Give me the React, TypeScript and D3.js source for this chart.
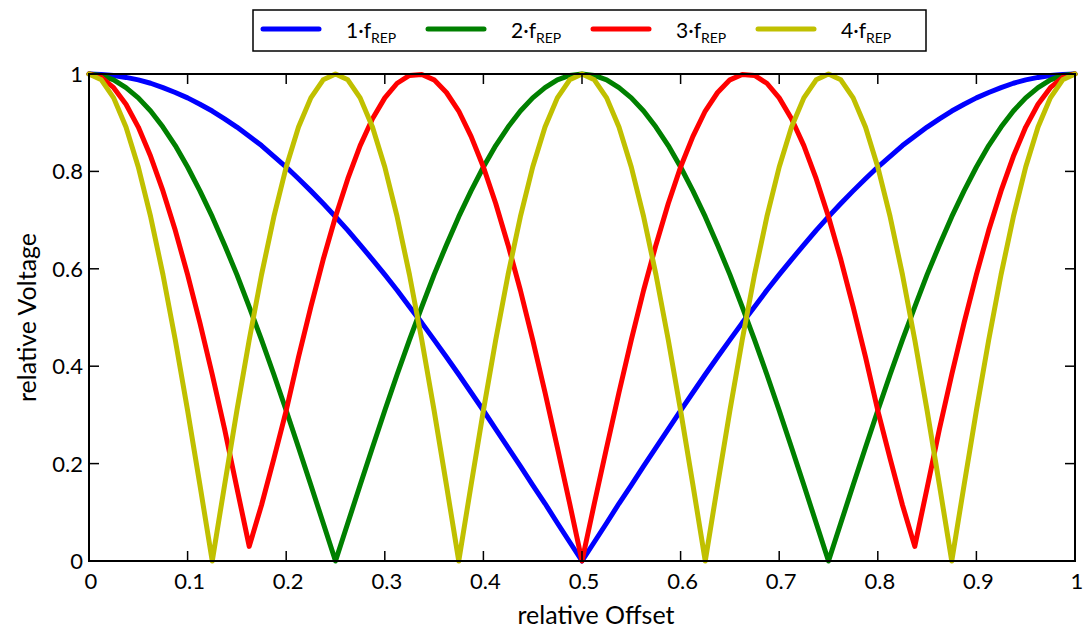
import React from "react";
import * as d3 from "d3";

// relative offset samples (step 0.0125)
const offsets: number[] = Array.from({ length: 81 }, (_, i) => +(i * 0.0125).toFixed(4));

const f1: number[] = [
  1.000,0.999,0.997,0.993,0.988,0.981,0.972,0.962,0.951,0.938,0.924,0.908,0.891,0.872,0.853,0.831,0.809,0.785,0.760,0.734,0.707,
  0.679,0.649,0.619,0.588,0.556,0.522,0.489,0.454,0.419,0.383,0.346,0.309,0.271,0.233,0.195,0.156,0.118,0.078,0.039,0.000,
  0.039,0.078,0.118,0.156,0.195,0.233,0.271,0.309,0.346,0.383,0.419,0.454,0.489,0.522,0.556,0.588,0.619,0.649,0.679,0.707,
  0.734,0.760,0.785,0.809,0.831,0.853,0.872,0.891,0.908,0.924,0.938,0.951,0.962,0.972,0.981,0.988,0.993,0.997,0.999,1.000,
];

const f2: number[] = [
  1.000,0.997,0.988,0.972,0.951,0.924,0.891,0.853,0.809,0.760,0.707,0.649,0.588,0.522,0.454,0.383,0.309,0.233,0.156,0.078,0.000,
  0.078,0.156,0.233,0.309,0.383,0.454,0.522,0.588,0.649,0.707,0.760,0.809,0.853,0.891,0.924,0.951,0.972,0.988,0.997,1.000,
  0.997,0.988,0.972,0.951,0.924,0.891,0.853,0.809,0.760,0.707,0.649,0.588,0.522,0.454,0.383,0.309,0.233,0.156,0.078,0.000,
  0.078,0.156,0.233,0.309,0.383,0.454,0.522,0.588,0.649,0.707,0.760,0.809,0.853,0.891,0.924,0.951,0.972,0.988,0.997,1.000,
];

const f3: number[] = [
  1.000,0.993,0.972,0.938,0.891,0.831,0.760,0.679,0.588,0.489,0.383,0.271,0.150,0.030,0.115,0.210,0.309,0.419,0.522,0.619,0.707,
  0.785,0.853,0.908,0.951,0.981,0.997,0.999,0.988,0.962,0.924,0.872,0.809,0.734,0.649,0.556,0.454,0.346,0.233,0.118,0.000,
  0.118,0.233,0.346,0.454,0.556,0.649,0.734,0.809,0.872,0.924,0.962,0.988,0.999,0.997,0.981,0.951,0.908,0.853,0.785,0.707,
  0.619,0.522,0.419,0.309,0.210,0.115,0.030,0.150,0.271,0.383,0.489,0.588,0.679,0.760,0.831,0.891,0.938,0.972,0.993,1.000,
];

const f4: number[] = [
  1.000,0.988,0.951,0.891,0.809,0.707,0.588,0.454,0.309,0.156,0.000,
  0.156,0.309,0.454,0.588,0.707,0.809,0.891,0.951,0.988,1.000,
  0.988,0.951,0.891,0.809,0.707,0.588,0.454,0.309,0.156,0.000,
  0.156,0.309,0.454,0.588,0.707,0.809,0.891,0.951,0.988,1.000,
  0.988,0.951,0.891,0.809,0.707,0.588,0.454,0.309,0.156,0.000,
  0.156,0.309,0.454,0.588,0.707,0.809,0.891,0.951,0.988,1.000,
  0.988,0.951,0.891,0.809,0.707,0.588,0.454,0.309,0.156,0.000,
  0.156,0.309,0.454,0.588,0.707,0.809,0.891,0.951,0.988,1.000,
];

const seriesNames: string[] = ["1", "2", "3", "4"];
const seriesColors: string[] = ["#0000ff", "#008000", "#ff0000", "#c0c000"];
const seriesValues: number[][] = [f1, f2, f3, f4];

const xTicks: number[] = [0, 0.1, 0.2, 0.3, 0.4, 0.5, 0.6, 0.7, 0.8, 0.9, 1];
const yTicks: number[] = [0, 0.2, 0.4, 0.6, 0.8, 1];

const W = 1087;
const H = 630;
const M = { left: 89, right: 1075, top: 74, bottom: 561 };
const FONT = "Lato, 'Open Sans', sans-serif";

export default function App() {
  const x = d3.scaleLinear().domain([0, 1]).range([M.left, M.right]);
  const y = d3.scaleLinear().domain([0, 1]).range([M.bottom, M.top]);
  const line = d3
    .line<[number, number]>()
    .x((d) => x(d[0]))
    .y((d) => y(d[1]));

  const fmt = (v: number) => (v === 0 || v === 1 ? String(v) : String(+v.toFixed(1)));
  const tickLen = 10;
  const legendX0 = 263;
  const legendStep = 165;

  return (
    <svg
      width={W}
      height={H}
      style={{ position: "absolute", left: 0, top: 0, background: "#fff" }}
      fontFamily={FONT}
    >
      <rect x={0} y={0} width={W} height={H} fill="#fff" />
      {/* curves */}
      <g fill="none" strokeWidth={5} strokeLinejoin="round" strokeLinecap="round">
        {seriesValues.map((vals, k) => (
          <path
            key={k}
            d={line(offsets.map((o, i) => [o, vals[i]] as [number, number])) || ""}
            stroke={seriesColors[k]}
          />
        ))}
      </g>
      {/* frame */}
      <rect
        x={M.left}
        y={M.top}
        width={M.right - M.left}
        height={M.bottom - M.top}
        fill="none"
        stroke="#000"
        strokeWidth={2}
      />
      {/* ticks */}
      <g stroke="#000" strokeWidth={1.5}>
        {xTicks.slice(1, -1).map((t) => (
          <g key={"xt" + t}>
            <line x1={x(t)} x2={x(t)} y1={M.bottom} y2={M.bottom - tickLen} />
            <line x1={x(t)} x2={x(t)} y1={M.top} y2={M.top + tickLen} />
          </g>
        ))}
        {yTicks.slice(1, -1).map((t) => (
          <g key={"yt" + t}>
            <line x1={M.left} x2={M.left + tickLen} y1={y(t)} y2={y(t)} />
            <line x1={M.right} x2={M.right - tickLen} y1={y(t)} y2={y(t)} />
          </g>
        ))}
      </g>
      {/* tick labels */}
      <g fontSize={22} fill="#000">
        {xTicks.map((t) => (
          <text key={"xl" + t} x={x(t) + 2} y={M.bottom + 28} textAnchor="middle">
            {fmt(t)}
          </text>
        ))}
        {yTicks.map((t) => (
          <text key={"yl" + t} x={M.left - 6} y={y(t) + 8} textAnchor="end">
            {fmt(t)}
          </text>
        ))}
      </g>
      {/* axis titles */}
      <text x={596} y={624} textAnchor="middle" fontSize={25} fill="#000">
        relative Offset
      </text>
      <text
        transform={`translate(36,${(M.top + M.bottom) / 2}) rotate(-90)`}
        textAnchor="middle"
        fontSize={25}
        fill="#000"
      >
        relative Voltage
      </text>
      {/* legend */}
      <rect x={253} y={10} width={673} height={41} fill="#fff" stroke="#000" strokeWidth={1.5} />
      {seriesNames.map((n, k) => {
        const lx = legendX0 + k * legendStep;
        return (
          <g key={"lg" + k}>
            <line
              x1={lx}
              x2={lx + 56}
              y1={29}
              y2={29}
              stroke={seriesColors[k]}
              strokeWidth={5}
              strokeLinecap="round"
            />
            <text x={lx + 83} y={38} fontSize={21} fill="#000">
              {n}·f
              <tspan fontSize={14} dy={5}>
                REP
              </tspan>
            </text>
          </g>
        );
      })}
    </svg>
  );
}
